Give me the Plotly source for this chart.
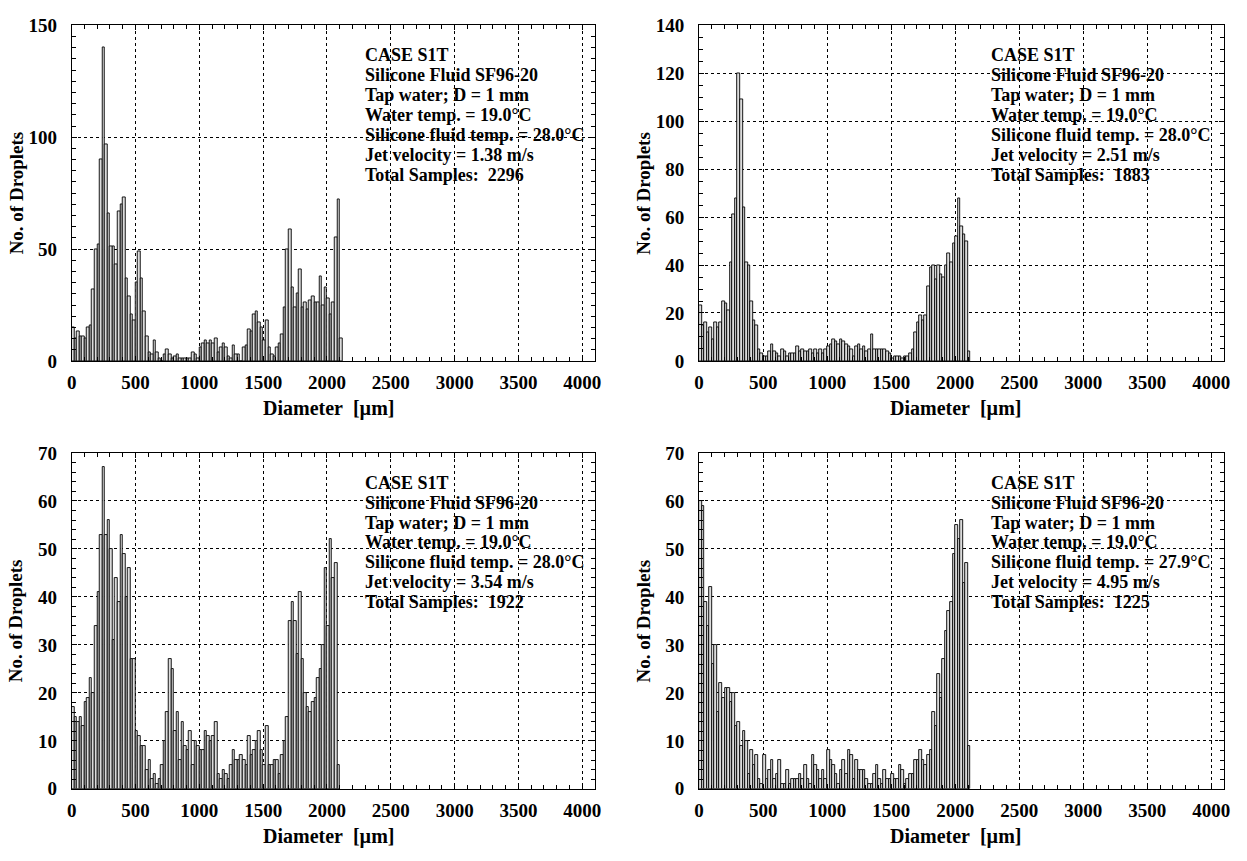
import numpy as np
import plotly.graph_objects as go

W, H = 1247, 861
BIN_WIDTH = 20  # µm

# ---- data: droplet counts per 20 µm diameter bin, starting at 0 µm ----
counts_v138 = [15, 10, 13, 11, 11, 10, 15, 16, 32, 50, 52, 90, 140, 97, 66, 51, 51, 43, 67, 70,
               73, 37, 29, 21, 18, 35, 49, 37, 22, 11, 4, 3, 9, 4, 1, 0, 3, 5, 3, 1,
               2, 3, 1, 1, 1, 1, 1, 4, 3, 1, 6, 8, 9,
               8, 9, 8, 10, 4, 6, 8, 6, 2, 1, 7, 3, 3, 0, 6, 7, 14, 13, 21, 22,
               17, 15, 9, 18, 6, 3, 2, 6, 8, 12, 24, 50, 59, 33, 24, 30, 41, 24, 26, 23,
               27, 29, 26, 26, 38, 25, 33, 28, 21, 26, 55, 72, 10]

counts_v251 = [23, 15, 16, 12, 14, 9, 16, 14, 16, 25, 24, 21, 41, 61, 68, 120, 109, 64, 41, 40,
               25, 17, 15, 5, 3, 2, 2, 4, 7, 4, 3, 2, 5, 4, 2, 3, 3, 3, 6, 4,
               5, 4, 4, 5, 3, 5, 3, 5, 3, 5, 6, 7, 9, 8,
               7, 9, 8, 7, 6, 5, 2, 6, 7, 5, 6, 4, 5, 11, 5, 5, 5, 5, 5, 4,
               3, 1, 2, 2, 2, 1, 2, 2,
               3, 5, 12, 16, 19, 17, 19, 31, 39, 40, 34, 40, 36, 35, 40, 45, 41, 49, 52, 68,
               56, 53, 50, 4]

counts_v354 = [17, 15, 14, 15, 13, 18, 19, 23, 20, 34, 41, 53, 67, 53, 56, 50, 31, 44, 39, 53,
               49, 40, 46, 27, 27, 12, 11, 9, 9, 4, 6, 2, 3, 1, 2, 5, 10, 16, 27, 25,
               12, 16, 6, 14, 9, 8, 12, 5, 10, 9, 8, 8, 12, 11,
               10, 11, 14, 3, 2, 4, 3, 2, 5, 8, 6, 6, 7, 6, 5, 11, 7, 8, 10, 12,
               8, 5, 13, 5, 5, 6, 6, 3, 7,
               10, 15, 35, 39, 35, 28, 41, 27, 20, 17, 16, 18, 19, 23, 25, 30, 46, 34, 52, 44,
               47, 5]

counts_v495 = [60, 59, 39, 34, 42, 26, 30, 16, 22, 19, 21, 21, 18, 20, 13, 14, 9, 12, 10, 3,
               8, 5, 7, 2, 1, 7, 2, 4, 6, 2, 3, 6, 1, 1, 4, 1, 2, 2, 2, 3,
               2, 5, 2, 1, 7, 5, 4, 2, 4, 2, 8,
               6, 5, 3, 1, 4, 6, 3, 8, 7, 2, 6, 4, 4, 4, 2, 1, 1, 3, 5, 2,
               1, 4, 2, 2, 3, 2, 2, 5, 4, 1, 2, 3, 3, 6, 6, 8, 6, 5, 7, 8,
               16, 13, 24, 19, 27, 33, 37, 39, 49, 55, 52, 56, 43, 47, 9]

panel_counts = [counts_v138, counts_v251, counts_v354, counts_v495]
water_temps = ["19.0", "19.0", "19.0", "19.0"]
fluid_temps = ["28.0", "28.0", "28.0", "27.9"]
velocities = ["1.38", "2.51", "3.54", "4.95"]
totals = ["2296", "1883", "1922", "1225"]
y_max = [150, 140, 70, 70]
y_major = [50, 20, 10, 10]
y_minor = [5, 5, 2, 2]
x_ticks = [0, 500, 1000, 1500, 2000, 2500, 3000, 3500, 4000]

# ---- layout geometry (pixels) ----
col_px = [(67.3, 595.3), (700.3, 1230.0)]
row_px = [(15.8, 359.7), (454.1, 798.3)]

FONT = "Liberation Serif"

def px_x(p):
    return p / W

def px_y(p):
    return 1 - p / H

fig = go.Figure()
annotations = []
layout_axes = {}

for k in range(4):
    r, c = divmod(k, 2)
    idx = k + 1
    xname = "x" if idx == 1 else f"x{idx}"
    yname = "y" if idx == 1 else f"y{idx}"
    counts = panel_counts[k]
    centers = np.arange(len(counts)) * BIN_WIDTH + BIN_WIDTH / 2
    fig.add_trace(go.Bar(
        x=centers, y=counts, width=BIN_WIDTH,
        marker=dict(color="#dcdcdc", line=dict(color="black", width=0.9)),
        xaxis=xname, yaxis=yname, showlegend=False, hoverinfo="x+y"))

    x0, x1 = col_px[c]
    y0, y1 = row_px[r]
    tickfont = dict(family=FONT, size=19, color="black", weight="bold")
    layout_axes["xaxis" if idx == 1 else f"xaxis{idx}"] = dict(
        domain=[px_x(x0), px_x(x1)], anchor=yname, range=[0, 4100],
        tickmode="array", tickvals=x_ticks, ticktext=[str(v) for v in x_ticks],
        ticks="inside", ticklen=5, tickwidth=1, tickcolor="black",
        showline=True, linecolor="black", linewidth=1, mirror="allticks",
        showgrid=True, gridcolor="black", gridwidth=1, griddash="3px,3px",
        zeroline=False, tickfont=tickfont, ticklabelstandoff=4,
        minor=dict(tickmode="linear", tick0=0, dtick=100, ticks="inside", ticklen=4,
                   tickcolor="black", tickwidth=1, showgrid=False),
        fixedrange=True)
    layout_axes["yaxis" if idx == 1 else f"yaxis{idx}"] = dict(
        domain=[px_y(y1), px_y(y0)], anchor=xname, range=[0, y_max[k]],
        tickmode="linear", tick0=0, dtick=y_major[k],
        ticks="inside", ticklen=5, tickwidth=1, tickcolor="black",
        showline=True, linecolor="black", linewidth=1, mirror="allticks",
        showgrid=True, gridcolor="black", gridwidth=1, griddash="3px,3px",
        zeroline=False, tickfont=tickfont, ticklabelstandoff=10,
        minor=dict(tickmode="linear", tick0=0, dtick=y_minor[k], ticks="inside", ticklen=4,
                   tickcolor="black", tickwidth=1, showgrid=False),
        fixedrange=True)

    # info text block
    lines = [
        "CASE S1T",
        "Silicone Fluid SF96-20",
        "Tap water; D = 1 mm",
        f"Water temp. = {water_temps[k]}°C",
        f"Silicone fluid temp. = {fluid_temps[k]}°C",
        f"Jet velocity = {velocities[k]} m/s",
        "Total Samples:\u00a0\u00a0" + totals[k],
    ]
    tx = 361 if c == 0 else 993
    ty0 = y0 + 30.5
    for j, line in enumerate(lines):
        annotations.append(dict(
            text=line, xref="paper", yref="paper", x=px_x(tx), y=px_y(ty0 + 20.4 * j),
            xanchor="left", yanchor="middle", showarrow=False,
            font=dict(family=FONT, size=18, color="black", weight="bold")))

    # axis titles
    annotations.append(dict(
        text="Diameter\u00a0\u00a0[µm]", xref="paper", yref="paper",
        x=px_x(x0 + 259), y=px_y(y1 + 48.5), xanchor="center", yanchor="middle",
        showarrow=False, font=dict(family=FONT, size=20, color="black", weight="bold")))
    annotations.append(dict(
        text="No. of Droplets", xref="paper", yref="paper", textangle=-90,
        x=px_x(x0 - 56), y=px_y((y0 + y1) / 2), xanchor="center", yanchor="middle",
        showarrow=False, font=dict(family=FONT, size=19, color="black", weight="bold")))

fig.update_layout(
    width=W, height=H, margin=dict(l=0, r=0, t=0, b=0),
    paper_bgcolor="white", plot_bgcolor="white",
    bargap=0, showlegend=False, annotations=annotations,
    font=dict(family=FONT, color="black"),
    **layout_axes)

fig.write_html("out.html")
